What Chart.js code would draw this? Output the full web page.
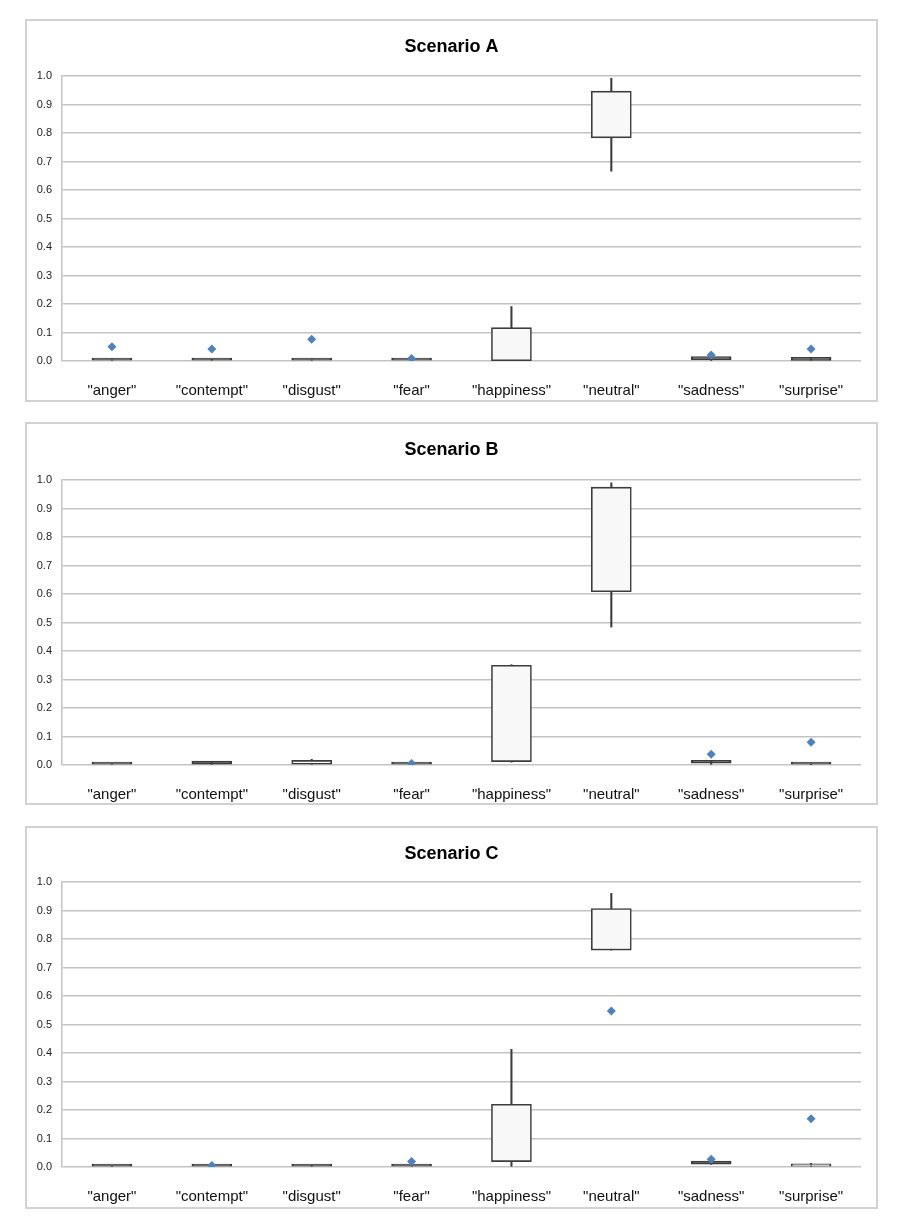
<!DOCTYPE html>
<html><head><meta charset="utf-8">
<script src="https://cdn.jsdelivr.net/npm/chart.js@4.4.0/dist/chart.umd.min.js"></script>
<style>
body{margin:0;background:#fff;width:912px;height:1226px;position:relative;overflow:hidden}
.frame{position:absolute;box-sizing:border-box;border:2px solid #d2d2d2}
canvas{position:absolute}
</style></head><body>
<div class="frame" style="left:25px;top:19px;width:853px;height:383px"></div>
<div class="frame" style="left:25px;top:422px;width:853px;height:383px"></div>
<div class="frame" style="left:25px;top:826px;width:853px;height:383px"></div>
<canvas id="cA" width="851" height="381" style="left:26px;top:20px"></canvas>
<canvas id="cB" width="851" height="381" style="left:26px;top:423px"></canvas>
<canvas id="cC" width="851" height="381" style="left:26px;top:827px"></canvas>
<script>
const categories = ['"anger"','"contempt"','"disgust"','"fear"','"happiness"','"neutral"','"sadness"','"surprise"'];
const yTickLabels = ['0.0','0.1','0.2','0.3','0.4','0.5','0.6','0.7','0.8','0.9','1.0'];

// Scenario A
const minA = [0, 0, 0, 0, 0, 0.666, 0.002, 0];
const q1A  = [0, 0, 0, 0, 0.001, 0.783, 0.005, 0.002];
const q3A  = [0.003, 0.003, 0.003, 0.004, 0.117, 0.947, 0.012, 0.008];
const maxA = [0.004, 0.006, 0.004, 0.005, 0.191, 0.992, 0.014, 0.009];
const outA = [0.05, 0.042, 0.076, 0.009, null, null, 0.021, 0.042];

// Scenario B
const minB = [0, 0, 0, 0, 0.01, 0.484, 0, 0];
const q1B  = [0, 0.003, 0, 0, 0.012, 0.608, 0.006, 0];
const q3B  = [0.004, 0.009, 0.016, 0.001, 0.35, 0.975, 0.013, 0.001];
const maxB = [0.004, 0.01, 0.02, 0.001, 0.352, 0.99, 0.015, 0.001];
const outB = [null, null, null, 0.005, null, null, 0.038, 0.08];

// Scenario C
const minC = [0, 0, 0, 0, 0, 0.761, 0.009, 0];
const q1C  = [0, 0, 0, 0, 0.019, 0.761, 0.01, 0];
const q3C  = [0.002, 0.002, 0.002, 0.003, 0.22, 0.907, 0.016, 0.011];
const maxC = [0.002, 0.003, 0.005, 0.004, 0.413, 0.96, 0.017, 0.013];
const outC = [null, 0.005, null, 0.019, null, 0.547, 0.027, 0.169];

const FONT = '"Liberation Sans", Arial, sans-serif';
const GRID = '#c4c4c4';
const DARK = '#3c3c3c';
const BLUE = '#4f81bd';
const BOXFILL = '#f8f8f8';

function makeChart(id, title, mins, q1, q3, maxs, outs, plotTop, plotBottom) {
  const canvas = document.getElementById(id);
  const H = canvas.height;
  const titleSize = 18, titleLH = titleSize * 1.2;
  const titleCenter = 27;
  const padTop = titleCenter - titleLH / 2;
  const padBottom = plotTop - padTop - titleLH;
  new Chart(canvas, {
    type: 'bar',
    data: {
      labels: categories,
      datasets: [
        {
          type: 'line',
          data: outs,
          showLine: false,
          pointStyle: 'rectRot',
          pointRadius: 4.5,
          pointHoverRadius: 4.5,
          pointBackgroundColor: BLUE,
          pointBorderColor: BLUE,
          pointBorderWidth: 0,
          order: 0
        },
        {
          data: q1.map((v, i) => [v, q3[i]]),
          grouped: false,
          barThickness: 40,
          backgroundColor: c => (c.raw && Math.abs(c.raw[1] - c.raw[0]) < 0.01) ? DARK : BOXFILL,
          borderColor: DARK,
          borderWidth: 1.6,
          borderSkipped: false,
          minBarLength: 3,
          order: 1
        },
        {
          data: mins.map((v, i) => [v, maxs[i]]),
          grouped: false,
          barThickness: 1.4,
          backgroundColor: DARK,
          borderWidth: 0,
          order: 2
        }
      ]
    },
    options: {
      responsive: false,
      animation: false,
      layout: { padding: 0 },
      plugins: {
        legend: { display: false },
        tooltip: { enabled: false },
        title: {
          display: true,
          text: title,
          color: '#000',
          font: { family: FONT, size: titleSize, weight: 'bold', lineHeight: 1.2 },
          padding: { top: padTop, bottom: padBottom }
        }
      },
      scales: {
        x: {
          type: 'category',
          offset: true,
          grid: { display: false },
          border: { display: false },
          ticks: { color: '#111', font: { family: FONT, size: 15 }, padding: 13, autoSkip: false, maxRotation: 0 },
          afterFit: s => { s.height = H - plotBottom; }
        },
        y: {
          position: 'left',
          min: 0, max: 1,
          ticks: {
            stepSize: 0.1,
            color: '#222',
            font: { family: FONT, size: 11 },
            padding: 10,
            callback: (v, i) => yTickLabels[i] !== undefined ? yTickLabels[i] : v.toFixed(1)
          },
          grid: { color: GRID, lineWidth: 1.5, drawTicks: false },
          border: { display: true, color: GRID, width: 1.5 },
          afterFit: s => { s.width = 36; }
        },
        yRight: {
          position: 'right',
          display: true,
          min: 0, max: 1,
          grid: { display: false, drawTicks: false },
          border: { display: false },
          ticks: { display: false },
          afterFit: s => { s.width = 16; }
        }
      }
    }
  });
}

makeChart('cA', 'Scenario A', minA, q1A, q3A, maxA, outA, 56, 341);
makeChart('cB', 'Scenario B', minB, q1B, q3B, maxB, outB, 57, 342);
makeChart('cC', 'Scenario C', minC, q1C, q3C, maxC, outC, 55, 340);
</script>
</body></html>
